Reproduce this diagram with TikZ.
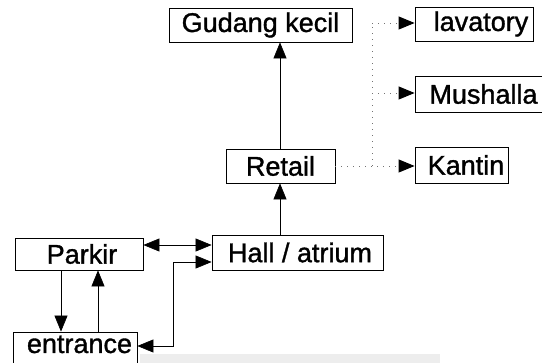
\documentclass[tikz,border=0pt]{standalone}
\usepackage{fontspec}
\setmainfont{Liberation Sans}
\newfontfamily\boxfont{Liberation Sans}[FakeBold=1.2]
\usetikzlibrary{arrows.meta}
\begin{document}
\begin{tikzpicture}[x=1pt,y=-1pt,
  box/.style={draw=black, line width=0.8pt, inner sep=0pt, fill=white,
    font=\boxfont\fontsize{27}{30}\selectfont},
  arr/.style={line width=0.6pt, -{Triangle[length=16pt,width=13pt]}},
  arrboth/.style={line width=0.6pt, {Triangle[length=16pt,width=13pt]}-{Triangle[length=16pt,width=13pt]}},
  dotline/.style={draw=black!55, line width=0.9pt, dash pattern=on 1pt off 5pt},
  dotarr/.style={dotline, -{Triangle[length=16pt,width=13pt,color=black]}}]
\useasboundingbox (0,0) rectangle (542,363);
% faint band along the lower edge
\fill[black!7] (140,354) rectangle (440,363);

% boxes
\node[box, minimum width=183pt, minimum height=34pt] (gudang) at (260.5,25) {Gudang kecil};
\node[box, minimum width=118pt, minimum height=34pt] (lav) at (474,24) {\hspace*{14pt}lavatory};
\node[box, minimum width=135pt, minimum height=36pt] (mush) at (482.5,94) {\hspace*{2pt}Mushalla};
\node[box, minimum width=93pt, minimum height=36pt] (kantin) at (461.5,165) {\hspace*{9pt}Kantin};
\node[box, minimum width=109pt, minimum height=34pt] (retail) at (280.5,166) {Retail};
\node[box, minimum width=171pt, minimum height=35pt] (hall) at (297.5,252.5) {\hspace*{5pt}Hall / atrium};
\node[box, minimum width=128pt, minimum height=32pt] (parkir) at (79,254) {\hspace*{6pt}Parkir};
\node[box, minimum width=124pt, minimum height=34pt, text height=19pt, text depth=11pt]
  (entrance) at (75,349) {\hspace*{9pt}entrance};

% routing points
\coordinate (ph) at (0,245);
\coordinate (eh1) at (173,346);
\coordinate (eh2) at (173,262);
\coordinate (pe) at (61,0);
\coordinate (ep) at (98,0);
\coordinate (trunk) at (372,166);
\coordinate (lavy) at (0,23);
\coordinate (mushy) at (0,93);

% solid connectors
\draw[arr] (retail.north -| 280,0) -- (gudang.south -| 280,0);
\draw[arr] (hall.north -| 280,0) -- (retail.south -| 280,0);
\draw[arrboth] (parkir.east |- ph) -- (hall.west |- ph);
\draw[arr] (parkir.south -| pe) -- (entrance.north -| pe);
\draw[arr] (entrance.north -| ep) -- (parkir.south -| ep);
\draw[arrboth] (entrance.east |- eh1) -- (eh1) -- (eh2) -- (hall.west |- eh2);

% dotted branches from Retail
\draw[dotarr] (retail.east |- trunk) -- (kantin.west |- trunk);
\draw[dotline] (trunk) -- (trunk |- lavy);
\draw[dotarr] (trunk |- lavy) -- (lav.west |- lavy);
\draw[dotarr] (trunk |- mushy) -- (mush.west |- mushy);
\end{tikzpicture}
\end{document}
